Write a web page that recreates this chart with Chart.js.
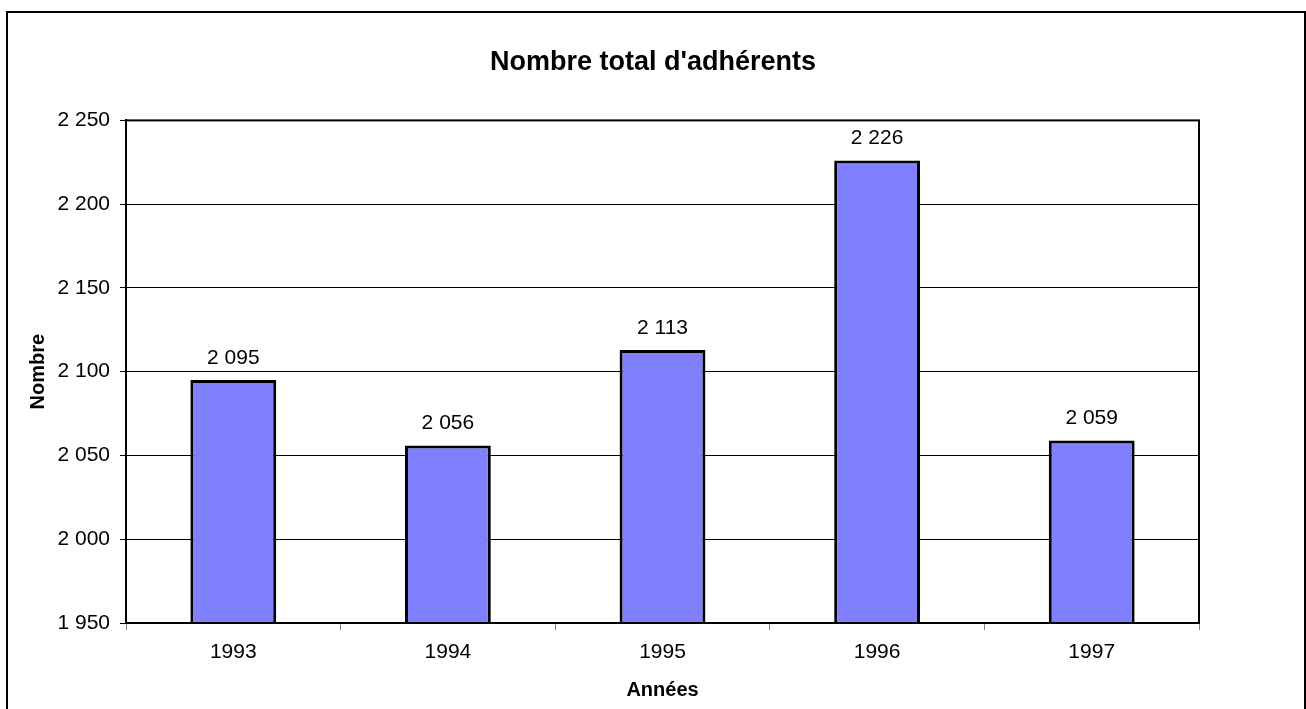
<!DOCTYPE html>
<html>
<head>
    <title>Nombre total d'adhérents</title>
    <meta charset="UTF-8">
    <script src="https://cdn.jsdelivr.net/npm/chart.js@4.4.1/dist/chart.umd.min.js"></script>
    <style>
        body { margin: 0; background: #fff; }
        #wrap { width: 1306px; height: 709px; }
    </style>
</head>
<body>
    <div id="wrap"><canvas id="myChart" width="1306" height="709"></canvas></div>

    <script>
        var annees = ['1993', '1994', '1995', '1996', '1997'];
        var adherents = [2095, 2056, 2113, 2226, 2059];
        var axeMin = 1950, axeMax = 2250, pas = 50;

        var police = '"Liberation Sans", Arial, sans-serif';

        function espace(n) {
            return String(n).replace(/\B(?=(\d{3})+(?!\d))/g, ' ');
        }

        // cadre exterieur + cadre de la zone de tracé
        var cadres = {
            id: 'cadres',
            beforeDraw: function (chart) {
                var ctx = chart.ctx;
                ctx.save();
                ctx.fillStyle = '#fff';
                ctx.fillRect(0, 0, chart.width, chart.height);
                ctx.strokeStyle = '#000';
                ctx.lineWidth = 2;
                ctx.beginPath();
                ctx.moveTo(7, 712);
                ctx.lineTo(7, 12);
                ctx.lineTo(1305, 12);
                ctx.lineTo(1305, 712);
                ctx.stroke();
                ctx.restore();
            },
            afterDraw: function (chart) {
                var a = chart.chartArea, ctx = chart.ctx;
                ctx.save();
                ctx.strokeStyle = '#000';
                ctx.lineWidth = 2;
                ctx.strokeRect(a.left, a.top, a.right - a.left, a.bottom - a.top);
                ctx.restore();
            }
        };

        var etiquettes = {
            id: 'etiquettes',
            afterDatasetsDraw: function (chart) {
                var ctx = chart.ctx;
                var meta = chart.getDatasetMeta(0);
                ctx.save();
                ctx.font = '21px ' + police;
                ctx.fillStyle = '#000';
                ctx.textAlign = 'center';
                ctx.textBaseline = 'middle';
                meta.data.forEach(function (bar, i) {
                    ctx.fillText(espace(adherents[i]), bar.x, bar.y - 22);
                });
                ctx.restore();
            }
        };

        var ctx = document.getElementById('myChart');
        var myChart = new Chart(ctx, {
            type: 'bar',
            data: {
                labels: annees,
                datasets: [{
                    label: 'Nombre',
                    data: adherents,
                    backgroundColor: '#8080FF',
                    borderColor: '#000',
                    borderWidth: 3,
                    barPercentage: 0.4,
                    categoryPercentage: 1
                }]
            },
            options: {
                responsive: false,
                animation: false,
                layout: { padding: 0 },
                plugins: {
                    legend: { display: false },
                    tooltip: { enabled: false },
                    title: {
                        display: true,
                        text: "Nombre total d'adhérents",
                        color: '#000',
                        font: { family: police, size: 27, weight: 'bold', lineHeight: 1.2 },
                        padding: { top: 46, bottom: 42 }
                    }
                },
                scales: {
                    x: {
                        grid: { display: true, drawOnChartArea: false, tickLength: 7, color: '#808080', offset: true },
                        border: { display: true, color: '#000', width: 2 },
                        ticks: {
                            color: '#000', padding: 10,
                            font: { family: police, size: 21 }
                        },
                        title: {
                            display: true, text: 'Années', color: '#000',
                            font: { family: police, size: 20, weight: 'bold', lineHeight: 1.2 },
                            padding: { top: 0, bottom: 7 }
                        },
                        afterFit: function (scale) { scale.height = 86; }
                    },
                    y: {
                        min: axeMin,
                        max: axeMax,
                        ticks: {
                            stepSize: pas, color: '#000', padding: 10,
                            font: { family: police, size: 21 },
                            callback: function (v) { return espace(v); }
                        },
                        grid: { color: '#000', lineWidth: 1, tickLength: 6 },
                        border: { display: true, color: '#000', width: 2 },
                        title: {
                            display: true, text: 'Nombre', color: '#000',
                            font: { family: police, size: 20, weight: 'bold', lineHeight: 1.2 },
                            padding: { top: 26, bottom: 0 }
                        },
                        afterFit: function (scale) { scale.width = 126; }
                    },
                    // marge droite vide
                    droite: {
                        type: 'linear',
                        position: 'right',
                        grid: { display: false },
                        border: { display: false },
                        ticks: { display: false },
                        afterFit: function (scale) { scale.width = 107; }
                    }
                }
            },
            plugins: [cadres, etiquettes]
        });
    </script>
</body>
</html>
